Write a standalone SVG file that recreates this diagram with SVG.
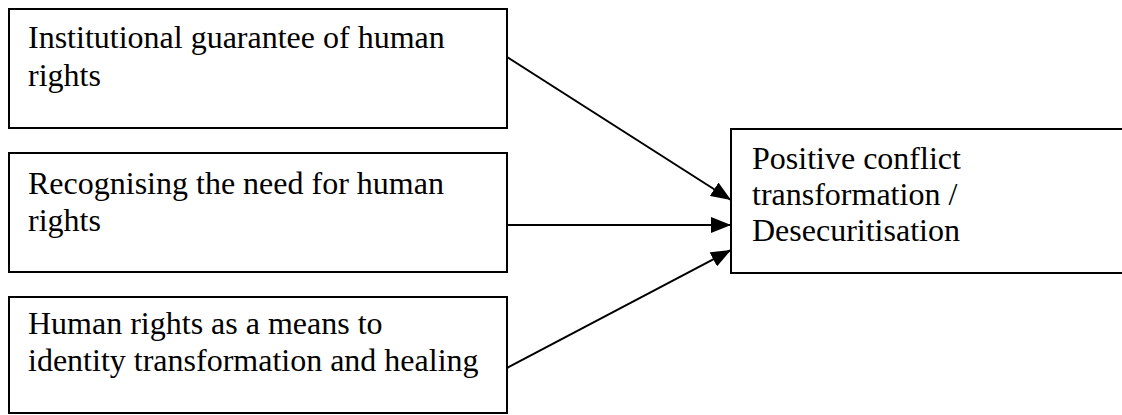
<svg xmlns="http://www.w3.org/2000/svg" width="1122" height="415" viewBox="0 0 1122 415">
<defs>
<style>
.box{fill:#fff;stroke:#000;stroke-width:2}
.t{font-family:"Liberation Serif","Times New Roman",serif;font-size:32px;fill:#000}
.c{stroke:#000;stroke-width:2;fill:none}
</style>
<marker id="ah" markerUnits="userSpaceOnUse" markerWidth="22" markerHeight="16" refX="20" refY="8" orient="auto">
<path d="M0,0 L20,8 L0,16 Z" fill="#000"/>
</marker>
</defs>
<rect width="1122" height="415" fill="#fff"/>
<g id="n1">
<rect class="box" x="9" y="9" width="498" height="119"/>
<text class="t" x="28" y="48">Institutional guarantee of human</text>
<text class="t" x="28" y="86">rights</text>
</g>
<g id="n2">
<rect class="box" x="9" y="153" width="498" height="119"/>
<text class="t" x="28" y="194">Recognising the need for human</text>
<text class="t" x="28" y="231">rights</text>
</g>
<g id="n3">
<rect class="box" x="9" y="297" width="498" height="116"/>
<text class="t" x="28" y="334">Human rights as a means to</text>
<text class="t" x="28" y="371">identity transformation and healing</text>
</g>
<g id="n4">
<rect class="box" x="731" y="129" width="400" height="144"/>
<text class="t" x="752" y="169">Positive conflict</text>
<text class="t" x="752" y="205">transformation /</text>
<text class="t" x="752" y="241">Desecuritisation</text>
</g>
<g id="connectors">
<line class="c" x1="507" y1="57" x2="731" y2="200" marker-end="url(#ah)"/>
<line class="c" x1="507" y1="225" x2="731" y2="225" marker-end="url(#ah)"/>
<line class="c" x1="507" y1="368" x2="731" y2="250" marker-end="url(#ah)"/>
</g>
</svg>
